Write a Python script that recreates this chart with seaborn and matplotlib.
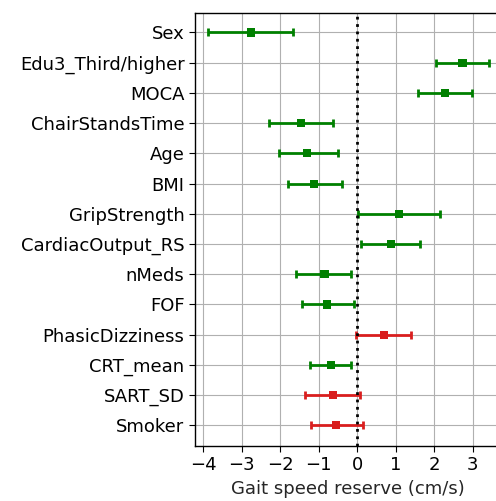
import matplotlib
matplotlib.use("Agg")
import matplotlib.pyplot as plt
import seaborn as sns
import pandas as pd

# Predictors with estimated effect on gait speed reserve and 95% CI bounds
features = ["Sex", "Edu3_Third/higher", "MOCA", "ChairStandsTime", "Age", "BMI",
            "GripStrength", "CardiacOutput_RS", "nMeds", "FOF", "PhasicDizziness",
            "CRT_mean", "SART_SD", "Smoker"]
estimate = [-2.77, 2.74, 2.29, -1.46, -1.30, -1.13, 1.08, 0.88, -0.85, -0.78,
            0.70, -0.67, -0.64, -0.54]
ci_low = [-3.87, 2.05, 1.57, -2.29, -2.04, -1.81, 0.01, 0.11, -1.58, -1.43,
          -0.03, -1.23, -1.36, -1.19]
ci_high = [-1.67, 3.42, 2.98, -0.64, -0.50, -0.40, 2.16, 1.63, -0.17, -0.09,
           1.39, -0.16, 0.07, 0.15]
significant = [True, True, True, True, True, True, True, True, True, True,
               False, True, False, False]

df = pd.DataFrame({"feature": features, "estimate": estimate,
                   "low": ci_low, "high": ci_high, "sig": significant})
df["color"] = df["sig"].map({True: "green", False: "#d91e1e"})

sns.set_style("ticks")
plt.rcParams.update({"font.size": 13, "font.family": ["DejaVu Sans"]})

fig = plt.figure(figsize=(4.96, 5.01), dpi=100)
# axes runs past the right edge of the figure, so the right spine is cut off
x0, x1 = -4.22, 3.72
ax = fig.add_axes([0.393, 0.110, 0.607 * (x1 - x0) / (3.61 - x0), 0.865])

for i, row in df.iterrows():
    ax.errorbar(row["estimate"], i,
                xerr=[[row["estimate"] - row["low"]], [row["high"] - row["estimate"]]],
                fmt="none", ecolor=row["color"], elinewidth=2, capsize=3,
                capthick=2, zorder=3)

sns.scatterplot(data=df, x="estimate", y=df.index, hue="feature",
                palette=dict(zip(df["feature"], df["color"])), marker="s",
                s=34, linewidth=0, legend=False, ax=ax, zorder=4)

ax.axvline(0, color="black", linestyle=":", linewidth=2, zorder=5)

ax.set_yticks(range(len(features)))
ax.set_yticklabels(features)
ax.set_ylim(len(features) - 1 + 0.68, -0.66)
ax.set_xlim(x0, x1)
ax.set_xticks([-4, -3, -2, -1, 0, 1, 2, 3])
ax.grid(True, color="#b0b0b0", linewidth=0.8, zorder=0)
ax.set_axisbelow(True)
ax.set_xlabel("Gait speed reserve (cm/s)")
ax.set_ylabel("")
for s in ax.spines.values():
    s.set_color("black")
    s.set_linewidth(1)
ax.tick_params(colors="black", length=4)

fig.savefig("out.png", dpi=100)
